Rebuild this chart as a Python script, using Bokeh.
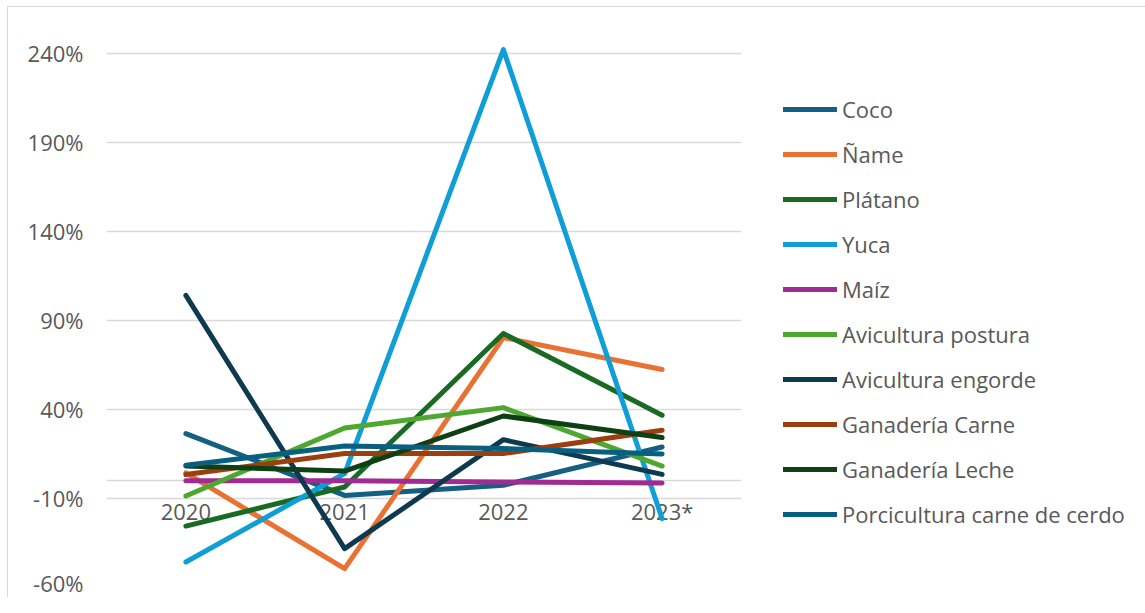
from bokeh.plotting import figure
from bokeh.models import (FactorRange, Range1d, FixedTicker, PrintfTickFormatter,
                          CategoricalAxis, Legend, LegendItem)
from bokeh.embed import file_html
from bokeh.resources import INLINE

years = ["2020", "2021", "2022", "2023*"]
yticks = [-60, -10, 40, 90, 140, 190, 240]

coco = [26.4, -8.3, -2.6, 18.9]
name_ = [4.3, -49.4, 80.3, 62.4]
platano = [-25.5, -3.6, 82.6, 36.7]
yuca = [-45.7, 4.0, 242.0, -21.3]
maiz = [0.0, 0.0, -0.8, -1.3]
avi_postura = [-8.6, 29.6, 41.0, 8.2]
avi_engorde = [104.0, -38.2, 23.0, 3.5]
gan_carne = [3.4, 15.2, 15.2, 28.3]
gan_leche = [8.2, 5.4, 36.3, 24.2]
porcicultura = [8.6, 19.4, 18.0, 15.0]

series_names = ["Coco", "Ñame", "Plátano", "Yuca", "Maíz", "Avicultura postura",
                "Avicultura engorde", "Ganadería Carne", "Ganadería Leche",
                "Porcicultura carne de cerdo"]
series_values = [coco, name_, platano, yuca, maiz, avi_postura, avi_engorde,
                 gan_carne, gan_leche, porcicultura]
colors = ["#156082", "#E97132", "#196B24", "#0F9ED5", "#A02B93", "#4EA72E",
          "#0D3A4E", "#9A4010", "#0F4015", "#095F80"]

FONT = "Open Sans"
FS = "22px"
TXT = "#595959"
GRID = "#d9d9d9"

p = figure(frame_width=635, frame_height=566,
           x_range=FactorRange(factors=years, range_padding=0),
           y_range=Range1d(-60, 257.8),
           output_backend="svg", toolbar_location=None,
           x_axis_location=None,
           min_border_left=98, min_border_right=0,
           min_border_top=14, min_border_bottom=10)
p.outline_line_color = None
p.styles = {"margin-left": "7px", "margin-top": "6px",
            "border-top": "1.5px solid #d9d9d9",
            "border-left": "1.5px solid #d9d9d9"}

yax = p.yaxis[0]
yax.ticker = FixedTicker(ticks=yticks)
yax.formatter = PrintfTickFormatter(format="%d%%")
yax.axis_line_color = None
yax.major_tick_line_color = None
yax.minor_tick_line_color = None
yax.major_label_standoff = 17
yax.major_label_text_font = FONT
yax.major_label_text_font_size = FS
yax.major_label_text_color = TXT

p.xgrid.visible = False
p.ygrid.ticker = FixedTicker(ticks=yticks)
p.ygrid.grid_line_color = GRID
p.ygrid.grid_line_width = 1.5

xax = CategoricalAxis(fixed_location=0)
xax.level = "underlay"
xax.axis_line_color = GRID
xax.axis_line_width = 1.5
xax.major_tick_line_color = None
xax.minor_tick_line_color = None
xax.major_label_standoff = 9
xax.major_label_text_font = FONT
xax.major_label_text_font_size = FS
xax.major_label_text_color = TXT
p.add_layout(xax, "below")

items = []
for name, vals, col in zip(series_names, series_values, colors):
    r = p.line(years, vals, line_color=col, line_width=5,
               line_cap="round", line_join="round")
    items.append(LegendItem(label=name, renderers=[r]))

legend = Legend(items=items, location=(42, 58), margin=0, padding=0,
                spacing=15, label_height=30, glyph_height=30, glyph_width=54,
                label_standoff=5, label_width=330, label_text_font=FONT,
                label_text_font_size=FS, label_text_color=TXT,
                background_fill_alpha=0, border_line_alpha=0)
p.add_layout(legend, "right")

open("out.html", "w").write(file_html(p, INLINE))
